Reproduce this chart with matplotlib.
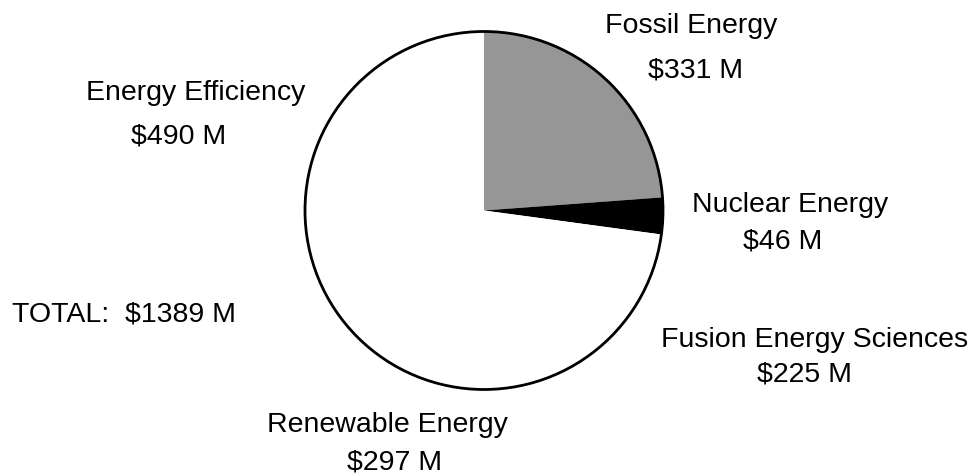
import matplotlib.pyplot as plt
from matplotlib.patches import Circle

plt.rcParams["font.family"] = ["Liberation Sans", "DejaVu Sans"]

labels = ["Fossil Energy", "Nuclear Energy", "Fusion Energy Sciences",
          "Renewable Energy", "Energy Efficiency"]
values = [331, 46, 225, 297, 490]
colors = ["#969696", "#000000", "#ffffff", "#ffffff", "#ffffff"]
total = sum(values)

W, H = 977, 477
fig = plt.figure(figsize=(W / 100, H / 100), dpi=100)
ax = fig.add_axes([0, 0, 1, 1])

cx, cy, r = 484, H - 211.5, 179
ax.pie(values, colors=colors, startangle=90, counterclock=False,
       center=(cx, cy), radius=r, frame=True,
       wedgeprops=dict(linewidth=0))
ax.add_patch(Circle((cx, cy), r, fill=False, edgecolor="black", linewidth=2))

ax.set_xlim(0, W)
ax.set_ylim(0, H)
ax.axis("off")

# label positions in pixels: name (x center, baseline), value (x center, baseline)
pos = {
    "Fossil Energy": (691.5, 33, 696, 78),
    "Nuclear Energy": (790, 212, 783, 249),
    "Fusion Energy Sciences": (815, 347, 804.5, 382),
    "Renewable Energy": (387.5, 432, 395, 470),
    "Energy Efficiency": (195.5, 100, 178.5, 143),
}
fs = 20.5
for lab, v in zip(labels, values):
    x1, y1, x2, y2 = pos[lab]
    ax.text(x1, H - y1, lab, ha="center", va="baseline", fontsize=fs)
    ax.text(x2, H - y2, f"${v} M", ha="center", va="baseline", fontsize=fs)

ax.text(12, H - 322, f"TOTAL:  ${total} M", ha="left", va="baseline", fontsize=fs)

fig.savefig("out.png", dpi=100)
